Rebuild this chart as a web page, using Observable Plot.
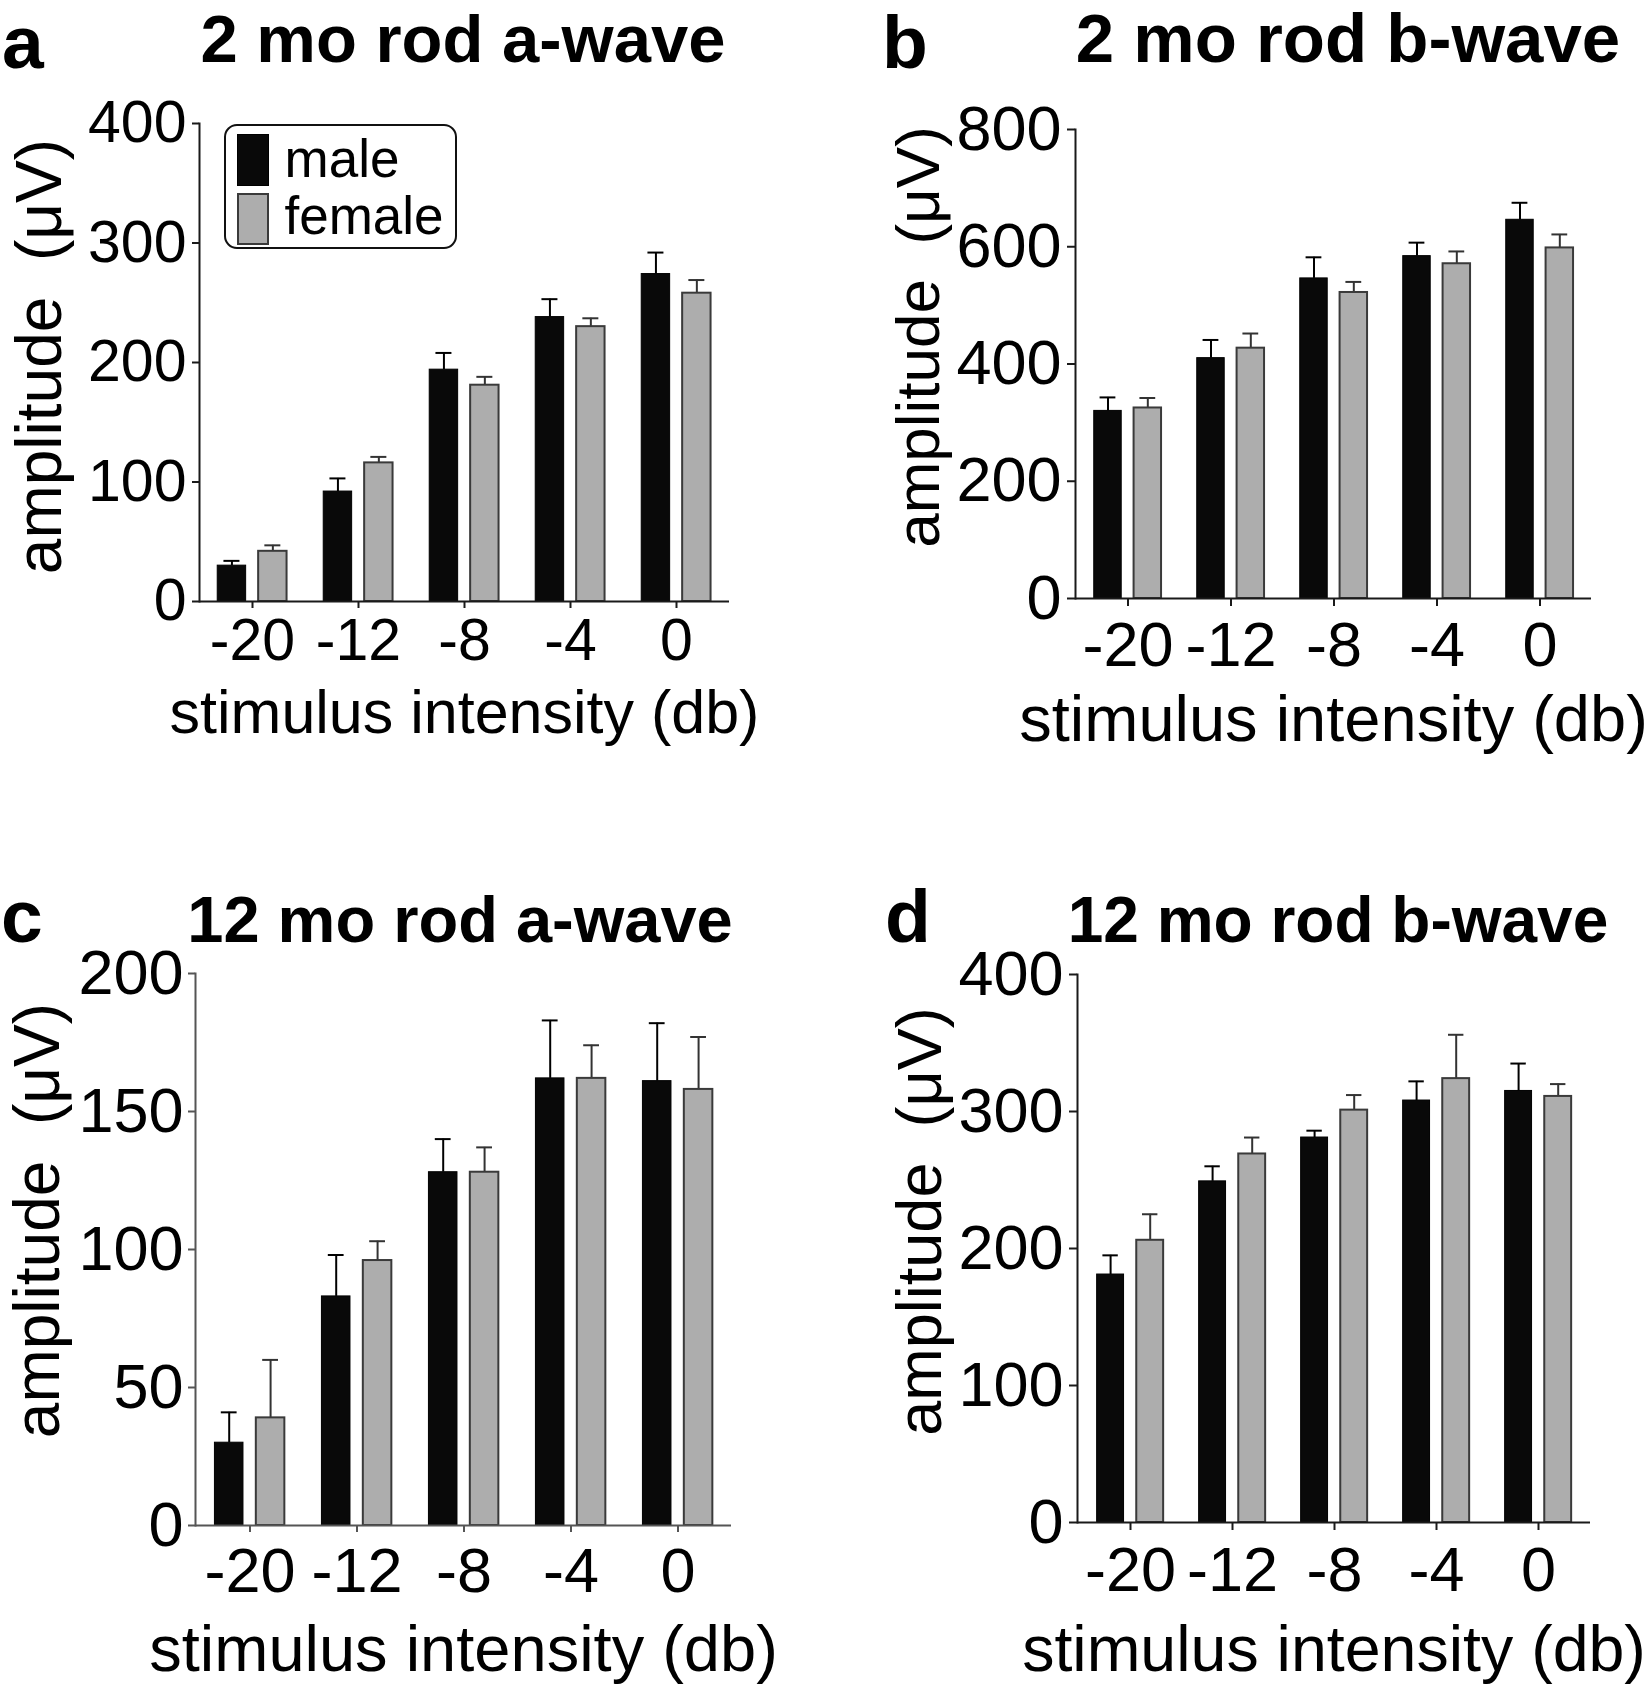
<!DOCTYPE html>
<html>
<head>
<meta charset="utf-8">
<script src="https://cdn.jsdelivr.net/npm/d3@7"></script>
<script src="https://cdn.jsdelivr.net/npm/@observablehq/plot@0.6"></script>
<style>
html, body { margin: 0; padding: 0; background: #fff; }
#page { position: relative; width: 1650px; height: 1691px; overflow: hidden;
  font-family: "Liberation Sans", Arial, Helvetica, sans-serif; color: #000; }
.abs { position: absolute; white-space: nowrap; line-height: 1; }
.title { font-weight: bold; transform: translateX(-50%); }
.letter { font-weight: bold; font-size: 75px; line-height: 0.8; }
.plotbox { position: absolute; }
</style>
</head>
<body>
<div id="page"></div>
<script>
// ---------- data ----------
const intensities = ["-20", "-12", "-8", "-4", "0"];
const sexes = ["male", "female"];

const ticks2moA = [0, 100, 200, 300, 400];
const ticks2moB = [0, 200, 400, 600, 800];
const ticks12moA = [0, 50, 100, 150, 200];
const ticks12moB = [0, 100, 200, 300, 400];

const a2Male = [30, 92, 194, 238, 274];
const a2MaleErr = [4, 11, 14, 15, 18];
const a2Female = [42, 116, 181, 230, 258];
const a2FemaleErr = [5, 5, 7, 7, 11];

const b2Male = [320, 410, 546, 584, 646];
const b2MaleErr = [23, 31, 36, 23, 29];
const b2Female = [325, 427, 522, 571, 598];
const b2FemaleErr = [17, 25, 18, 21, 23];

const a12Male = [30, 83, 128, 162, 161];
const a12MaleErr = [11, 15, 12, 21, 21];
const a12Female = [39, 96, 128, 162, 158];
const a12FemaleErr = [21, 7, 9, 12, 19];

const b12Male = [181, 249, 281, 308, 315];
const b12MaleErr = [14, 11, 5, 14, 20];
const b12Female = [206, 269, 301, 324, 311];
const b12FemaleErr = [19, 12, 11, 32, 9];

const xLabel = "stimulus intensity (db)";
const yLabel = "amplitude\u00a0\u00a0(\u03bcV)";

// ---------- styles ----------
const fillColor = {male: "#090909", female: "#adadad"};
const strokeColor = {male: "#000000", female: "#3a3a3a"};
const errColor = {male: "#000000", female: "#333333"};
const BAND = {left: 0.172, bar: 0.268, gap: 0.118};
const CAP = 16;
const FONT = '"Liberation Sans", Arial, Helvetica, sans-serif';

const panels = [
  {letter: "a", title: "2 mo rod a-wave", male: a2Male, maleErr: a2MaleErr, female: a2Female, femaleErr: a2FemaleErr,
   yTicks: ticks2moA, left: 0, top: 0, width: 830, height: 800, ml: 199, mt: 123, mb: 199, mr: 101,
   tickFont: 59, tickSize: 7, yPad: 6, xPad: 10, xLabelFont: 61, xLabelDy: 131,
   yLabelFont: 64, yLabelDx: -139, yLabelDy: -6, axisColor: "#1a1a1a",
   titleX: 463, titleTop: 5, titleFont: 67, letterX: 2, letterTop: 12, legend: true},
  {letter: "b", title: "2 mo rod b-wave", male: b2Male, maleErr: b2MaleErr, female: b2Female, femaleErr: b2FemaleErr,
   yTicks: ticks2moB, left: 830, top: 0, width: 820, height: 800, ml: 245, mt: 129, mb: 202, mr: 59,
   tickFont: 63, tickSize: 8, yPad: 6, xPad: 15, xLabelFont: 65, xLabelDy: 142,
   yLabelFont: 62, yLabelDx: -137, yLabelDy: -27, axisColor: "#1a1a1a",
   titleX: 1348, titleTop: 4, titleFont: 69, letterX: 882, letterTop: 12},
  {letter: "c", title: "12 mo rod a-wave", male: a12Male, maleErr: a12MaleErr, female: a12Female, femaleErr: a12FemaleErr,
   yTicks: ticks12moA, left: 0, top: 850, width: 830, height: 841, ml: 195, mt: 123, mb: 166, mr: 99,
   tickFont: 63, tickSize: 7, yPad: 5, xPad: 15, xLabelFont: 65, xLabelDy: 145,
   yLabelFont: 64, yLabelDx: -137, yLabelDy: -29, axisColor: "#555555",
   titleX: 460, titleTop: 887, titleFont: 65, letterX: 1, letterTop: 886},
  {letter: "d", title: "12 mo rod b-wave", male: b12Male, maleErr: b12MaleErr, female: b12Female, femaleErr: b12FemaleErr,
   yTicks: ticks12moB, left: 830, top: 850, width: 820, height: 841, ml: 247, mt: 124, mb: 169, mr: 60,
   tickFont: 63, tickSize: 8, yPad: 6, xPad: 16, xLabelFont: 64.5, xLabelDy: 148,
   yLabelFont: 63, yLabelDx: -137, yLabelDy: -27, axisColor: "#1a1a1a",
   titleX: 1338, titleTop: 888, titleFont: 64, letterX: 885, letterTop: 886}
];

const page = document.getElementById("page");

function drawPanel(p) {
  const rows = [];
  intensities.forEach((db, i) => {
    rows.push({db, sex: sexes[0], value: p.male[i], err: p.maleErr[i]});
    rows.push({db, sex: sexes[1], value: p.female[i], err: p.femaleErr[i]});
  });
  const S = (p.width - p.ml - p.mr) / intensities.length;
  const startFrac = {male: BAND.left, female: BAND.left + BAND.bar + BAND.gap};
  const marks = [];
  sexes.forEach(sex => {
    const d = rows.filter(r => r.sex === sex);
    const x0 = startFrac[sex] * S;
    const x1 = x0 + BAND.bar * S;
    const cx = (x0 + x1) / 2;
    marks.push(Plot.ruleX(d, {x: "db", y1: "value", y2: r => r.value + r.err, dx: cx - S / 2,
      stroke: errColor[sex], strokeWidth: 2}));
    marks.push(Plot.tickY(d, {x: "db", y: r => r.value + r.err, insetLeft: cx - CAP / 2, insetRight: S - cx - CAP / 2,
      stroke: errColor[sex], strokeWidth: 2}));
    marks.push(Plot.barY(d, {x: "db", y: "value", insetLeft: x0, insetRight: S - x1,
      fill: fillColor[sex], stroke: strokeColor[sex], strokeWidth: sex === "male" ? 1 : 2}));
  });
  marks.push(Plot.ruleY([0], {stroke: p.axisColor, strokeWidth: 2}));
  marks.push(Plot.frame({anchor: "left", stroke: p.axisColor, strokeWidth: 2}));
  marks.push(Plot.axisY({ticks: p.yTicks, tickSize: p.tickSize, tickPadding: p.yPad, fontSize: p.tickFont,
    label: null, stroke: p.axisColor, strokeWidth: 2, fill: "#000"}));
  marks.push(Plot.axisX({tickSize: p.tickSize, tickPadding: p.xPad, fontSize: p.tickFont,
    label: null, stroke: p.axisColor, strokeWidth: 2, fill: "#000"}));
  marks.push(Plot.text([xLabel], {text: d => d, frameAnchor: "bottom", dy: p.xLabelDy, lineAnchor: "bottom",
    textAnchor: "middle", fontSize: p.xLabelFont, fill: "#000"}));
  marks.push(Plot.text([yLabel], {text: d => d, frameAnchor: "left", rotate: -90, dx: p.yLabelDx, dy: p.yLabelDy,
    lineAnchor: "bottom", textAnchor: "middle", fontSize: p.yLabelFont, fill: "#000"}));

  const chart = Plot.plot({
    width: p.width, height: p.height,
    marginLeft: p.ml, marginRight: p.mr, marginTop: p.mt, marginBottom: p.mb,
    x: {domain: intensities, padding: 0},
    y: {domain: [0, p.yTicks[p.yTicks.length - 1]]},
    style: {fontFamily: FONT, fontSize: p.tickFont + "px", color: "#000", background: "transparent", overflow: "visible"},
    marks
  });
  const box = document.createElement("div");
  box.className = "plotbox";
  box.style.left = p.left + "px";
  box.style.top = p.top + "px";
  box.appendChild(chart);
  page.appendChild(box);

  const letter = document.createElement("div");
  letter.className = "abs letter";
  letter.style.left = p.letterX + "px";
  letter.style.top = p.letterTop + "px";
  letter.textContent = p.letter;
  page.appendChild(letter);

  const title = document.createElement("div");
  title.className = "abs title";
  title.style.left = p.titleX + "px";
  title.style.top = p.titleTop + "px";
  title.style.fontSize = p.titleFont + "px";
  title.textContent = p.title;
  page.appendChild(title);

  if (p.legend) drawLegend();
}

function drawLegend() {
  const lg = document.createElement("div");
  lg.className = "abs";
  Object.assign(lg.style, {left: "224px", top: "124px", width: "233px", height: "125px",
    border: "2.5px solid #111", borderRadius: "13px", boxSizing: "border-box", background: "#fff"});
  sexes.forEach((sex, i) => {
    const sw = document.createElement("div");
    Object.assign(sw.style, {position: "absolute", left: "10.5px", top: (7.5 + i * 59) + "px",
      width: "32px", height: "52px", boxSizing: "border-box", background: fillColor[sex],
      border: (sex === "male" ? "1px solid #000" : "2px solid " + strokeColor[sex])});
    lg.appendChild(sw);
    const tx = document.createElement("div");
    tx.className = "abs";
    Object.assign(tx.style, {left: "58.5px", top: (5.6 + i * 57) + "px", fontSize: "53px"});
    tx.textContent = sex;
    lg.appendChild(tx);
  });
  page.appendChild(lg);
}

panels.forEach(drawPanel);
</script>
</body>
</html>
